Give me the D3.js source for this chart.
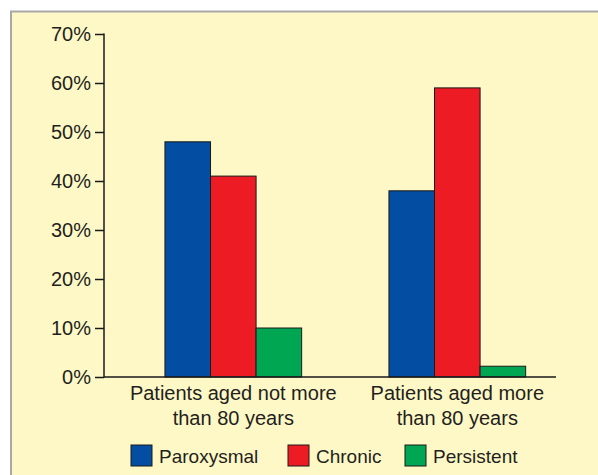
<!DOCTYPE html>
<html>
<head>
<meta charset="utf-8">
<script src="https://cdn.jsdelivr.net/npm/d3@7"></script>
<style>
  body { margin: 0; background: #fff; }
  svg text { font-family: "Liberation Sans", Arial, sans-serif; fill: #231f20; }
</style>
</head>
<body>
<div id="view"></div>
<script>
// chart data
var groups = ["Patients aged not more|than 80 years", "Patients aged more|than 80 years"];
var series = ["Paroxysmal", "Chronic", "Persistent"];
var paroxysmal = [48, 38];
var chronic = [41, 59];
var persistent = [10, 2.2];
var yTicks = [0, 10, 20, 30, 40, 50, 60, 70];
var colors = ["#034ea2", "#ed1c24", "#00a651"];

var values = [paroxysmal, chronic, persistent];

var svg = d3.select("#view")
	.append("svg")
	.attr("width", 598)
	.attr("height", 475);

// panel background with grey edge on top / left
svg.append("rect")
	.attr("x", 11).attr("y", 11)
	.attr("width", 598).attr("height", 475)
	.style("fill", "#fef8c6");
svg.append("line").attr("x1", 10).attr("x2", 598).attr("y1", 11.5).attr("y2", 11.5)
	.style("stroke", "#a8a8a8").style("stroke-width", 2);
svg.append("line").attr("x1", 11).attr("x2", 11).attr("y1", 11).attr("y2", 475)
	.style("stroke", "#a8a8a8").style("stroke-width", 2);

var y = d3.scaleLinear().domain([0, 70]).range([377, 34]);
var x0 = d3.scaleBand().domain(groups).range([121.3, 569.3]);
var x1 = d3.scaleBand().domain(series).range([0, 136.7]);

// bars
var g = svg.selectAll("g.grp")
	.data(groups)
   .enter().append("g")
	.attr("class", "grp")
	.attr("transform", function(d){ return "translate(" + (x0(d) + x0.bandwidth() / 2 - 68.35) + ",0)"; });

g.selectAll("rect")
	.data(function(d, gi){ return series.map(function(s, si){ return {s: s, v: values[si][gi], c: colors[si]}; }); })
   .enter().append("rect")
	.attr("x", function(d){ return x1(d.s); })
	.attr("width", x1.bandwidth())
	.attr("y", function(d){ return y(d.v); })
	.attr("height", function(d){ return y(0) - y(d.v); })
	.style("fill", function(d){ return d.c; })
	.style("stroke", "#1a1a1a")
	.style("stroke-width", 1);

// y axis
var yAxis = svg.append("g")
	.attr("transform", "translate(104,0)")
	.call(d3.axisLeft(y).tickValues(yTicks).tickSize(9).tickPadding(4)
		.tickFormat(function(d){ return d + "%"; }));
yAxis.selectAll("text").style("font-size", "20px");
yAxis.selectAll("line, path").style("stroke", "#1a1a1a").style("stroke-width", 1.5);
yAxis.select("path").attr("d", "M0,33.5V377.5");

// x baseline
svg.append("line")
	.attr("x1", 104).attr("x2", 556)
	.attr("y1", y(0)).attr("y2", y(0))
	.style("stroke", "#1a1a1a").style("stroke-width", 1.5);

// category labels, two lines each
var lab = svg.selectAll("text.cat")
	.data(groups)
   .enter().append("text")
	.attr("class", "cat")
	.attr("text-anchor", "middle")
	.style("font-size", "20px")
	.attr("x", function(d){ return x0(d) + x0.bandwidth() / 2; })
	.attr("y", 400);
lab.selectAll("tspan")
	.data(function(d){ return d.split("|"); })
   .enter().append("tspan")
	.attr("x", function(){ return d3.select(this.parentNode).attr("x"); })
	.attr("dy", function(d, i){ return i ? 25 : 0; })
	.text(function(d){ return d; });

// legend
var legX = [131, 288, 405];
var leg = svg.selectAll("g.leg")
	.data(series)
   .enter().append("g")
	.attr("class", "leg")
	.attr("transform", function(d, i){ return "translate(" + legX[i] + ",445)"; });
leg.append("rect")
	.attr("width", 21).attr("height", 21)
	.style("fill", function(d, i){ return colors[i]; })
	.style("stroke", "#1a1a1a").style("stroke-width", 1);
leg.append("text")
	.attr("x", 28).attr("y", 18)
	.style("font-size", "19px")
	.text(function(d){ return d; });
</script>
</body>
</html>
